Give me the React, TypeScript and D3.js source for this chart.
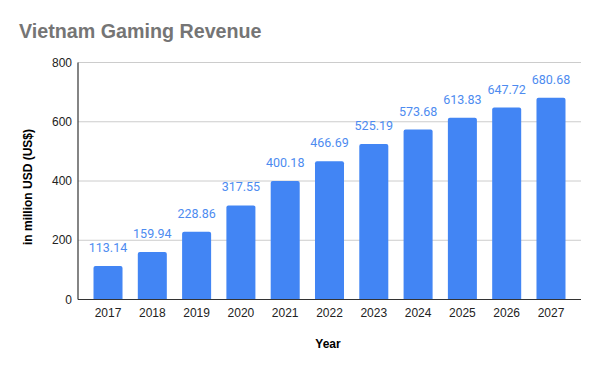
import React from "react";
import * as d3 from "d3";

const years = ["2017","2018","2019","2020","2021","2022","2023","2024","2025","2026","2027"];
const revenue = [113.14,159.94,228.86,317.55,400.18,466.69,525.19,573.68,613.83,647.72,680.68];
const yTicks = [0,200,400,600,800];

const W = 600, H = 371;
const left = 78, right = 581, top = 62.5, bottom = 299.5;

export default function App() {
  const x = d3.scaleBand<string>().domain(years).range([left, right]).paddingInner(0.345).paddingOuter(0.35);
  const y = d3.scaleLinear().domain([0, 800]).range([bottom, top]);
  const r = 2;
  return (
    <svg width={W} height={H} style={{ position: "absolute", left: 0, top: 0, background: "#fff" }}>
      <text x={19} y={38} fontFamily="Liberation Sans, Arial, sans-serif" fontWeight="bold" fontSize={19.7} fill="#757575">Vietnam Gaming Revenue</text>
      {yTicks.map(t => (
        <g key={t}>
          {t > 0 && <line x1={left} x2={right} y1={y(t)} y2={y(t)} stroke="#cccccc" strokeWidth={1} />}
          <text x={72} y={y(t)} dy="0.35em" textAnchor="end" fontFamily="Liberation Sans, Arial, sans-serif" fontSize={12} fill="#222">{t}</text>
        </g>
      ))}
      {years.map((yr, i) => {
        const x0 = x(yr)!;
        const w = x.bandwidth();
        const yt = y(revenue[i]);
        const path = `M${x0},${bottom} L${x0},${yt + r} Q${x0},${yt} ${x0 + r},${yt} L${x0 + w - r},${yt} Q${x0 + w},${yt} ${x0 + w},${yt + r} L${x0 + w},${bottom} Z`;
        return (
          <g key={yr}>
            <path d={path} fill="#4285f4" />
            <text x={x0 + w / 2} y={yt - 14} textAnchor="middle" fontFamily="Roboto, sans-serif" fontSize={12.5} fill="#4d8bf0">{revenue[i].toFixed(2)}</text>
            <text x={x0 + w / 2} y={317} textAnchor="middle" fontFamily="Liberation Sans, Arial, sans-serif" fontSize={12} fill="#222">{yr}</text>
          </g>
        );
      })}
      <line x1={left} x2={right} y1={bottom} y2={bottom} stroke="#333" strokeWidth={1.2} />
      <line x1={left} x2={left} y1={top} y2={bottom} stroke="#333" strokeWidth={1.2} />
      <text x={328} y={348} textAnchor="middle" fontFamily="Liberation Sans, Arial, sans-serif" fontWeight="bold" fontSize={12} fill="#000">Year</text>
      <text transform={`translate(32,${(top + bottom) / 2 + 6}) rotate(-90)`} textAnchor="middle" fontFamily="Liberation Sans, Arial, sans-serif" fontWeight="bold" fontSize={12} fill="#000">in million USD (US$)</text>
    </svg>
  );
}
